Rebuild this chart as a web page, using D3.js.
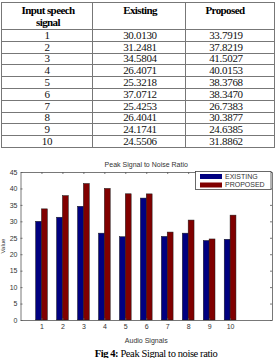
<!DOCTYPE html>
<html>
<head>
<meta charset="utf-8">
<script src="https://cdn.jsdelivr.net/npm/d3@7"></script>
<style>
  body { margin: 0; background: #fff; }
  svg { display: block; }
</style>
</head>
<body>
<div id="chart"></div>
<script>
// data
var signals = [1, 2, 3, 4, 5, 6, 7, 8, 9, 10];
var existing = [30.0130, 31.2481, 34.5804, 26.4071, 25.3218, 37.0712, 25.4253, 26.4041, 24.1741, 24.5506];
var proposed = [33.7919, 37.8219, 41.5027, 40.0153, 38.3768, 38.3470, 26.7383, 30.3877, 24.6385, 31.8862];
var seriesNames = ["EXISTING", "PROPOSED"];
var yTicks = [0, 5, 10, 15, 20, 25, 30, 35, 40, 45];
var tableHeader = ["Input speech", "Existing", "Proposed"];

var width = 276, height = 358;
var colors = ["#000080", "#800000"];

var svg = d3.select("#chart").append("svg")
    .attr("width", width)
    .attr("height", height);

// ---- table ----
var tbl = {left: 1, right: 275, top: 2, headBottom: 29, rowH: 11.8};
var cols = [tbl.left, 92, 185, tbl.right];
var rowY = d3.scaleLinear()
    .domain([0, signals.length])
    .range([tbl.headBottom, tbl.headBottom + tbl.rowH * signals.length]);
var tableBottom = rowY(signals.length);

var t = svg.append("g").attr("stroke", "#777").attr("stroke-width", 1);
t.append("rect")
    .attr("x", tbl.left + 0.5).attr("y", tbl.top + 0.5)
    .attr("width", tbl.right - tbl.left - 1).attr("height", tableBottom - tbl.top)
    .attr("fill", "none");
d3.range(signals.length).forEach(function(i) {
    t.append("line")
        .attr("x1", tbl.left).attr("x2", tbl.right)
        .attr("y1", Math.round(rowY(i)) + 0.5).attr("y2", Math.round(rowY(i)) + 0.5);
});
[cols[1], cols[2]].forEach(function(cx) {
    t.append("line")
        .attr("x1", cx + 0.5).attr("x2", cx + 0.5)
        .attr("y1", tbl.top).attr("y2", tableBottom);
});

var headG = svg.append("g")
    .attr("font-family", "Liberation Serif, serif")
    .attr("font-weight", "bold")
    .attr("font-size", 11)
    .attr("letter-spacing", -0.6)
    .attr("fill", "#000")
    .attr("text-anchor", "middle");
headG.append("text").attr("x", 48).attr("y", 14).text(tableHeader[0]);
headG.append("text").attr("x", 48).attr("y", 26).text("signal");
headG.append("text").attr("x", 140).attr("y", 14).text(tableHeader[1]);
headG.append("text").attr("x", 225).attr("y", 14).text(tableHeader[2]);

var rows = svg.append("g")
    .attr("font-family", "Liberation Serif, serif")
    .attr("font-size", 11)
    .attr("letter-spacing", -0.3)
    .attr("fill", "#111")
    .attr("text-anchor", "middle")
    .selectAll("g")
    .data(signals)
    .join("g")
    .attr("transform", function(d, i) { return "translate(0," + (rowY(i) + rowY(i + 1)) / 2 + ")"; });
rows.append("text").attr("x", 47).attr("dy", "0.35em").text(function(d) { return d; });
rows.append("text").attr("x", 140).attr("dy", "0.35em").text(function(d, i) { return existing[i].toFixed(4); });
rows.append("text").attr("x", 226).attr("dy", "0.35em").text(function(d, i) { return proposed[i].toFixed(4); });

// ---- bar chart ----
var margin = {top: 172, right: 4, bottom: 38, left: 20.5};
var x = d3.scaleLinear().domain([0, 12]).range([margin.left, width - margin.right]);
var y = d3.scaleLinear().domain([0, 45]).range([height - margin.bottom, margin.top]);
var barW = 0.28;

var plot = svg.append("g");

plot.selectAll("rect.ex")
    .data(signals)
    .join("rect")
    .attr("class", "ex")
    .attr("x", function(d) { return x(d - barW); })
    .attr("width", x(barW) - x(0))
    .attr("y", function(d, i) { return y(existing[i]); })
    .attr("height", function(d, i) { return y(0) - y(existing[i]); })
    .attr("fill", colors[0])
    .attr("stroke", "#1a1a1a")
    .attr("stroke-width", 0.5);

plot.selectAll("rect.pr")
    .data(signals)
    .join("rect")
    .attr("class", "pr")
    .attr("x", function(d) { return x(d); })
    .attr("width", x(barW) - x(0))
    .attr("y", function(d, i) { return y(proposed[i]); })
    .attr("height", function(d, i) { return y(0) - y(proposed[i]); })
    .attr("fill", colors[1])
    .attr("stroke", "#1a1a1a")
    .attr("stroke-width", 0.5);

var axisFont = "Liberation Sans, Arial, sans-serif";

var xAxis = svg.append("g")
    .attr("transform", "translate(0," + y(0) + ")")
    .call(d3.axisBottom(x).tickValues(signals).tickSizeInner(-2).tickSizeOuter(0).tickPadding(4));
var xTop = svg.append("g")
    .attr("transform", "translate(0," + y(45) + ")")
    .call(d3.axisTop(x).tickValues(signals).tickSizeInner(-2).tickSizeOuter(0).tickFormat(""));
var yAxis = svg.append("g")
    .attr("transform", "translate(" + x(0) + ",0)")
    .call(d3.axisLeft(y).tickValues(yTicks).tickSizeInner(-2).tickSizeOuter(0).tickPadding(3));
var yRight = svg.append("g")
    .attr("transform", "translate(" + x(12) + ",0)")
    .call(d3.axisRight(y).tickValues(yTicks).tickSizeInner(-2).tickSizeOuter(0).tickFormat(""));

[xAxis, xTop, yAxis, yRight].forEach(function(g) {
    g.selectAll("path, line").attr("stroke", "#555").attr("stroke-width", 0.8);
    g.selectAll("text")
        .attr("font-family", axisFont)
        .attr("font-size", 7)
        .attr("fill", "#333");
});

svg.append("text")
    .attr("x", (x(0) + x(12)) / 2).attr("y", margin.top - 5)
    .attr("text-anchor", "middle")
    .attr("font-family", axisFont).attr("font-size", 7).attr("fill", "#333")
    .text("Peak Signal to Noise Ratio");

svg.append("text")
    .attr("x", (x(0) + x(12)) / 2).attr("y", y(0) + 23)
    .attr("text-anchor", "middle")
    .attr("font-family", axisFont).attr("font-size", 7).attr("fill", "#333")
    .text("Audio Signals");

svg.append("text")
    .attr("transform", "translate(5," + (y(0) + y(45)) / 2 + ") rotate(-90)")
    .attr("text-anchor", "middle")
    .attr("font-family", axisFont).attr("font-size", 6).attr("fill", "#333")
    .text("Value");

// legend
var lg = svg.append("g").attr("transform", "translate(195.5," + (margin.top - 0.5) + ")");
lg.append("rect")
    .attr("width", 75.5).attr("height", 18)
    .attr("fill", "#fff").attr("stroke", "#444").attr("stroke-width", 0.8);
seriesNames.forEach(function(name, i) {
    lg.append("rect")
        .attr("x", 4.5).attr("y", 2.5 + i * 8.5)
        .attr("width", 22).attr("height", 5)
        .attr("fill", colors[i]);
    lg.append("text")
        .attr("x", 29.5).attr("y", 5 + i * 8.5)
        .attr("dy", "0.35em")
        .attr("font-family", axisFont).attr("font-size", 7).attr("fill", "#333")
        .text(name);
});

// caption
var cap = svg.append("text")
    .attr("x", 156).attr("y", 357)
    .attr("text-anchor", "middle")
    .attr("font-family", "Liberation Serif, serif")
    .attr("font-size", 10.5)
    .attr("letter-spacing", -0.4)
    .attr("fill", "#000");
cap.append("tspan").attr("font-weight", "bold").text("Fig 4: ");
cap.append("tspan").text("Peak Signal to noise ratio");
</script>
</body>
</html>
